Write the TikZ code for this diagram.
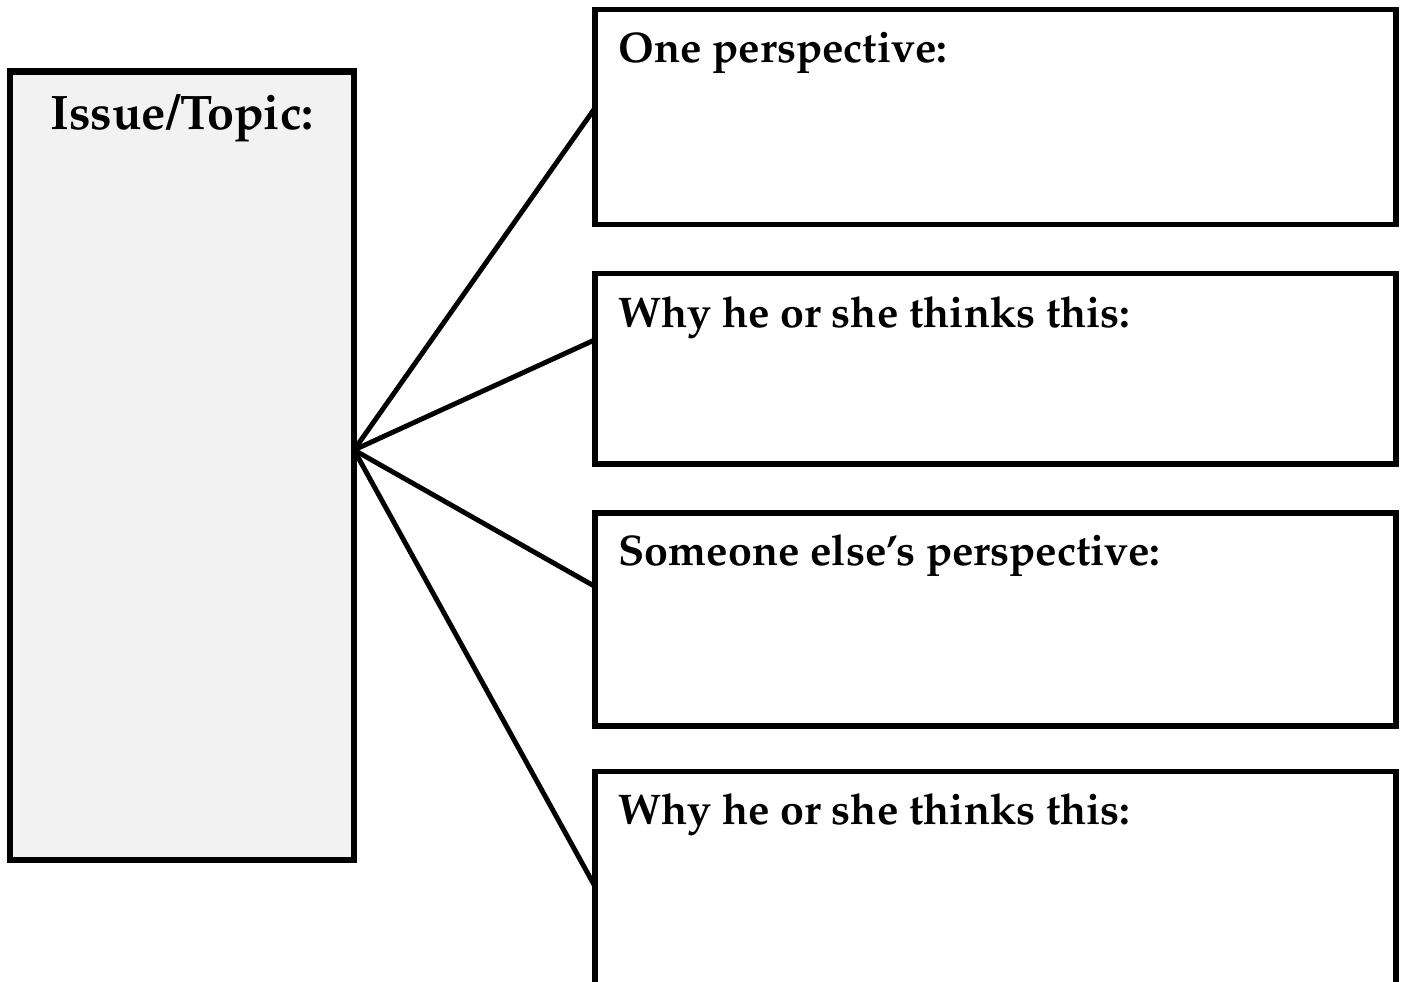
\documentclass[tikz,border=0pt]{standalone}
\usepackage[T1]{fontenc}
\usepackage{mathpazo}
\usetikzlibrary{calc}

\begin{document}
\begin{tikzpicture}[
    topicbox/.style={draw, line width=1.9pt, fill=black!5, outer sep=0pt,
      minimum width=3.44cm, minimum height=7.885cm},
    viewbox/.style={draw, line width=1.5pt, outer sep=0pt,
      minimum width=8.01cm},
    topictext/.style={font=\fontsize{13.8}{16}\selectfont\bfseries, inner sep=0pt},
    boxtext/.style={font=\fontsize{12.2}{14}\selectfont\bfseries, inner sep=0pt},
    spoke/.style={line width=1.4pt}
  ]
    %%%%% FRAME %%%%%
    \useasboundingbox (0, 0) rectangle (14.06, 9.81);

    %%%%% LEFT BOX %%%%%
    \node[topicbox] (topic) at (1.82, 5.1525) {};
    \node[topictext, anchor=base] (topiclabel) at ($(topic.north)+(0, -0.58)$) {Issue/Topic:};

    %%%%% RIGHT BOXES %%%%%
    \node[viewbox, minimum height=2.15cm] (view1) at (9.955, 8.64) {};
    \node[viewbox, minimum height=1.905cm] (view2) at (9.955, 6.1225) {};
    \node[viewbox, minimum height=2.13cm] (view3) at (9.955, 3.615) {};
    \node[viewbox, minimum height=2.30cm] (view4) at (9.955, 0.945) {};

    \node[boxtext, anchor=base west] (label1) at ($(view1.north west)+(0.23, -0.53)$) {One perspective:};
    \node[boxtext, anchor=base west] (label2) at ($(view2.north west)+(0.23, -0.54)$) {Why he or she thinks this:};
    \node[boxtext, anchor=base west] (label3) at ($(view3.north west)+(0.23, -0.53)$) {Someone else's perspective:};
    \node[boxtext, anchor=base west] (label4) at ($(view4.north west)+(0.23, -0.53)$) {Why he or she thinks this:};

    %%%%% SPOKES %%%%%
    \coordinate (hub) at ($(topic.north east)!0.48!(topic.south east)$);
    \coordinate (end1) at ($(view1.west)+(0, 0.09)$);
    \coordinate (end2) at ($(view2.west)+(0, 0.29)$);
    \coordinate (end3) at ($(view3.west)+(0, 0.33)$);
    \coordinate (end4) at (view4.west);

    \draw[spoke] (hub) -- (end1);
    \draw[spoke] (hub) -- (end2);
    \draw[spoke] (hub) -- (end3);
    \draw[spoke] (hub) -- (end4);
\end{tikzpicture}
\end{document}
